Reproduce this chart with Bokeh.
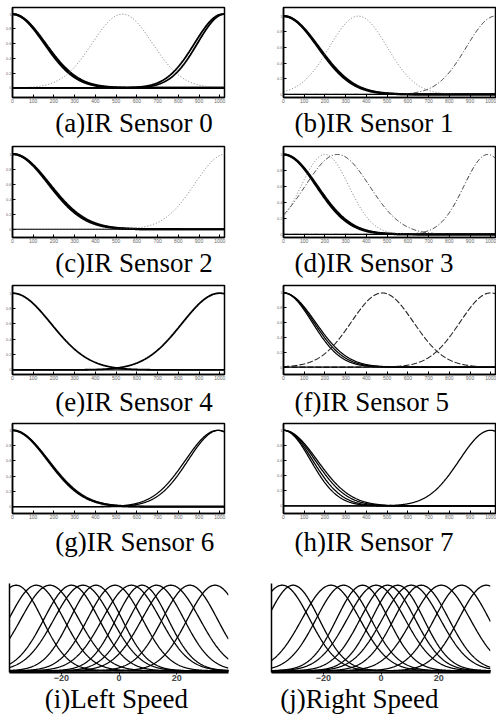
import numpy as np
from bokeh.plotting import figure
from bokeh.models import Span, FixedTicker, Range1d
from bokeh.core.properties import value
from bokeh.layouts import column, row
from bokeh.embed import file_html
from bokeh.resources import INLINE

# ---------------- data ----------------
ir_x_ticks = [0, 100, 200, 300, 400, 500, 600, 700, 800, 900, 1000]
ir_y_ticks = [0, 0.2, 0.4, 0.6, 0.8, 1.0]
speed_ticks = [-20, 0, 20]

captions = ["(a)IR Sensor 0", "(b)IR Sensor 1", "(c)IR Sensor 2", "(d)IR Sensor 3",
            "(e)IR Sensor 4", "(f)IR Sensor 5", "(g)IR Sensor 6", "(h)IR Sensor 7",
            "(i)Left Speed", "(j)Right Speed"]

# Gaussian membership functions: centres and widths
s0_centers = [0, 0, 530, 1023, 1015]
s0_sigmas = [152, 158, 145, 130, 136]
s1_centers = [0, 0, 361, 1023]
s1_sigmas = [165, 170, 139, 140]
s2_centers = [0, 0, 1030]
s2_sigmas = [172, 178, 150]
s3_centers = [0, 0, 260, 200, 986]
s3_sigmas = [158, 163, 155, 115, 115]
s4_centers = [0, 1000]
s4_sigmas = [185, 182]
s5_centers = [0, 0, 0, 477, 1000]
s5_sigmas = [138, 146, 154, 150, 148]
s6_centers = [0, 0, 995, 990]
s6_sigmas = [170, 175, 148, 156]
s7_centers = [0, 0, 0, 0, 999]
s7_sigmas = [130, 140, 152, 162, 150]

left_speed_centers = [-35.7, -28.7, -24.0, -16.5, -12.5, -8.0, -1.4, 4.3, 8.0, 13.0, 18.0, 24.6, 33.3]
left_speed_sigmas = [9.0, 9.5, 10.0, 9.5, 10.0, 9.0, 9.5, 10.0, 9.0, 9.5, 10.0, 9.5, 9.5]
right_speed_centers = [-34.3, -30.5, -17.4, -13.0, -6.4, -1.7, 2.3, 5.8, 10.5, 14.0, 20.9, 28.0, 36.5]
right_speed_sigmas = [9.5, 9.0, 10.0, 9.5, 9.0, 10.0, 9.5, 9.0, 10.0, 9.5, 10.0, 9.5, 9.5]

# ---------------- styles ----------------
STY = {
    "thick": dict(line_color="black", line_width=2.2),
    "bold": dict(line_color="black", line_width=1.8),
    "solid": dict(line_color="black", line_width=1.3),
    "dot": dict(line_color="#777777", line_width=1.0, line_dash="1 2"),
    "dashdot": dict(line_color="#333333", line_width=1.0, line_dash="5 2 1 2"),
    "dash": dict(line_color="#222222", line_width=1.1, line_dash="6 2"),
}
s0_styles = ["thick", "thick", "dot", "bold", "bold"]
s1_styles = ["thick", "thick", "dot", "dashdot"]
s2_styles = ["thick", "thick", "dot"]
s3_styles = ["thick", "thick", "dashdot", "dot", "dashdot"]
s4_styles = ["bold", "bold"]
s5_styles = ["solid", "solid", "solid", "dash", "dash"]
s6_styles = ["thick", "solid", "solid", "solid"]
s7_styles = ["solid", "solid", "solid", "solid", "solid"]

SERIF = "Liberation Serif"
CAP_SIZE = "27px"
CELL_W = 248


def gauss(x, c, s):
    return np.exp(-((x - c) ** 2) / (2.0 * s ** 2))


def base_fig(xr, yr, height, left, right, top, bottom):
    p = figure(width=CELL_W, height=height, x_range=Range1d(*xr), y_range=Range1d(*yr),
               output_backend="svg", toolbar_location=None,
               min_border_left=left, min_border_right=right,
               min_border_top=top, min_border_bottom=bottom)
    p.xgrid.visible = False
    p.ygrid.visible = False
    return p


def caption_fig(text, height, x_px, y_from_top):
    # a bare strip holding one caption, measured in pixels
    c = figure(width=CELL_W, height=height, x_range=Range1d(0, CELL_W), y_range=Range1d(0, height),
               output_backend="svg", toolbar_location=None,
               x_axis_location=None, y_axis_location=None,
               min_border_left=0, min_border_right=0, min_border_top=0, min_border_bottom=0)
    c.xgrid.visible = False
    c.ygrid.visible = False
    c.outline_line_color = None
    c.text(x=[x_px], y=[height - y_from_top], text=[text], text_align="left",
           text_baseline="middle", text_font=value(SERIF), text_font_size=value(CAP_SIZE),
           text_color="black")
    return c


def ir_panel(centers, sigmas, styles, caption, yr, rowspec, colspec):
    height, top, frame_h, cap_dy = rowspec
    left, right, cap_dx = colspec
    axis_h = 10
    xr = (0, 1023)
    p = base_fig(xr, yr, top + frame_h + axis_h, left, right, top, axis_h)
    p.outline_line_color = "black"
    p.outline_line_width = 1.5
    for ax, ticks, fs in ((p.xaxis, ir_x_ticks, "5px"), (p.yaxis, ir_y_ticks, "4px")):
        ax.ticker = FixedTicker(ticks=ticks)
        ax.major_label_text_font_size = fs
        ax.major_label_text_color = "#666666"
        ax.major_label_standoff = 1
        ax.major_tick_in = 3
        ax.major_tick_out = 0
        ax.minor_tick_line_color = None
        ax.axis_line_width = 1.5
        ax.axis_line_color = "black"
    xs = np.linspace(0, 1023, 400)
    p.add_layout(Span(location=0, dimension="width", line_color="black", line_width=1.2))
    for c, s, st in zip(centers, sigmas, styles):
        p.line(xs, gauss(xs, c, s), **STY[st])
    cap = caption_fig(caption, height - (top + frame_h + axis_h), left + cap_dx, cap_dy - axis_h)
    return column(p, cap)


def speed_panel(centers, sigmas, caption, rowspec, colspec):
    height, top, frame_h, cap_dy = rowspec
    left, right, cap_dx = colspec
    axis_h = 12
    xr = (-38, 38)
    yr = (-0.02, 1.02)
    p = base_fig(xr, yr, top + frame_h + axis_h, left, right, top, axis_h)
    p.outline_line_color = None
    p.yaxis.ticker = FixedTicker(ticks=[])
    p.yaxis.axis_line_width = 1.5
    p.yaxis.axis_line_color = "black"
    p.xaxis.ticker = FixedTicker(ticks=speed_ticks)
    p.xaxis.major_label_text_font = "Liberation Sans"
    p.xaxis.major_label_text_font_style = "bold"
    p.xaxis.major_label_text_font_size = "9px"
    p.xaxis.major_label_standoff = 0
    p.xaxis.major_tick_in = 0
    p.xaxis.major_tick_out = 2
    p.xaxis.minor_tick_line_color = None
    p.xaxis.axis_line_width = 2.2
    p.xaxis.axis_line_color = "black"
    xs = np.linspace(-38, 38, 400)
    for c, s in zip(centers, sigmas):
        p.line(xs, gauss(xs, c, s), line_color="black", line_width=1.3)
    cap = caption_fig(caption, height - (top + frame_h + axis_h), left + cap_dx, cap_dy - axis_h)
    return column(p, cap)


# (row height, top border, frame height, caption centre below frame)
ROW1 = (140, 7, 90, 25)
ROW2 = (140, 6, 91, 25)
ROW3 = (140, 5, 89, 27)
ROW4 = (140, 3, 90, 28)
ROW5 = (156, 23, 89, 26)
# (left border, right border, caption start relative to frame left)
COL_L = (12, 24, 38)
COL_R = (35, 1, -22)
COL_SL = (9, 20, 31)
COL_SR = (23, 6, -13)

fa = ir_panel(s0_centers, s0_sigmas, s0_styles, captions[0], (-0.13, 1.09), ROW1, COL_L)
fb = ir_panel(s1_centers, s1_sigmas, s1_styles, captions[1], (-0.04, 1.11), ROW1, COL_R)
fc = ir_panel(s2_centers, s2_sigmas, s2_styles, captions[2], (-0.11, 1.10), ROW2, COL_L)
fd = ir_panel(s3_centers, s3_sigmas, s3_styles, captions[3], (-0.04, 1.10), ROW2, COL_R)
fe = ir_panel(s4_centers, s4_sigmas, s4_styles, captions[4], (-0.06, 1.10), ROW3, COL_L)
ff = ir_panel(s5_centers, s5_sigmas, s5_styles, captions[5], (-0.10, 1.10), ROW3, COL_R)
fg = ir_panel(s6_centers, s6_sigmas, s6_styles, captions[6], (-0.09, 1.09), ROW4, COL_L)
fh = ir_panel(s7_centers, s7_sigmas, s7_styles, captions[7], (-0.10, 1.09), ROW4, COL_R)
fi = speed_panel(left_speed_centers, left_speed_sigmas, captions[8], ROW5, COL_SL)
fj = speed_panel(right_speed_centers, right_speed_sigmas, captions[9], ROW5, COL_SR)

layout = column(row(fa, fb), row(fc, fd), row(fe, ff), row(fg, fh), row(fi, fj))

open("out.html", "w").write(file_html(layout, INLINE))
